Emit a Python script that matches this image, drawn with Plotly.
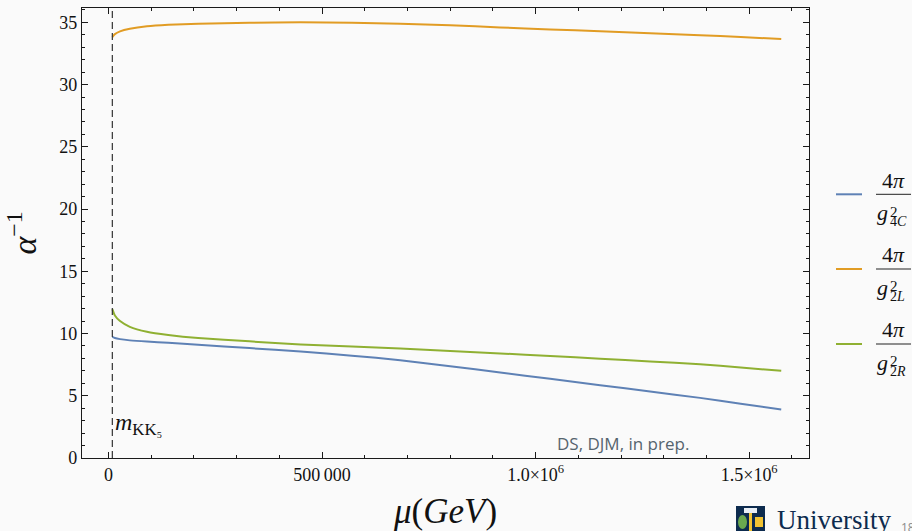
import plotly.graph_objects as go

# Renormalisation scale (GeV) and inverse couplings read along the running
mu = [9000, 15000, 27000, 50000, 90000, 140000, 210000, 330000, 450000,
      570000, 683000, 800000, 917000, 1034000, 1151000, 1268000, 1385000,
      1480000, 1575000]
alpha_inv_4C = [9.73, 9.64, 9.55, 9.45, 9.35, 9.26, 9.10, 8.83, 8.55,
                8.22, 7.86, 7.37, 6.87, 6.36, 5.85, 5.34, 4.83, 4.36, 3.89]
alpha_inv_2L = [33.82, 34.05, 34.27, 34.48, 34.68, 34.80, 34.89, 34.97, 35.0,
                34.96, 34.88, 34.76, 34.59, 34.43, 34.28, 34.13, 33.97,
                33.82, 33.66]
alpha_inv_2R = [11.96, 11.45, 11.0, 10.54, 10.14, 9.88, 9.63, 9.37, 9.12,
                8.96, 8.80, 8.60, 8.40, 8.20, 7.98, 7.76, 7.54, 7.28, 7.0]

m_kk5 = 9000

x_tickvals = [0, 500000, 1000000, 1500000]
x_ticktext = ["0", "500\u2009000", "1.0×10<sup>6</sup>", "1.5×10<sup>6</sup>"]
y_tickvals = [0, 5, 10, 15, 20, 25, 30, 35]

series = [
    ("4", "C", alpha_inv_4C, "#5e81b5"),
    ("2", "L", alpha_inv_2L, "#e19c24"),
    ("2", "R", alpha_inv_2R, "#8fb032"),
]

BG = "#fafafa"
SERIF = "Liberation Serif, DejaVu Serif, serif"
AXIS = "#1a1a1a"
INK = "#111111"

# plot frame in pixels: left 82, right 809, top 8, bottom 458
def px(xp):
    return (xp - 82) / 727


def py(yp):
    return (458 - yp) / 450


fig = go.Figure()
for _, _, vals, col in series:
    fig.add_trace(go.Scatter(
        x=mu, y=vals, mode="lines", showlegend=False,
        line=dict(color=col, width=2, shape="spline", smoothing=0.5),
    ))

# KK threshold marker
fig.add_vline(x=m_kk5, line=dict(color="#333333", width=1.2, dash="7px,4px"))
fig.add_annotation(x=m_kk5, y=2.75, xref="x", yref="y", xanchor="left",
                   yanchor="middle", showarrow=False, xshift=1,
                   text="<i>m</i><sub>KK₅</sub>",
                   font=dict(family=SERIF, size=24, color=INK))


def label(x, y, text, size, anchor="center", family=SERIF, color=INK):
    fig.add_annotation(x=x, y=y, xref="paper", yref="paper", text=text,
                       xanchor=anchor, yanchor="middle", showarrow=False,
                       font=dict(family=family, size=size, color=color))


# Legend drawn by hand so the labels can be fractions 4π / g²
bar_py = [194.3, 269.0, 344.0]
for (n, s, _, col), b in zip(series, bar_py):
    fig.add_shape(type="line", xref="paper", yref="paper",
                  x0=px(836), x1=px(862), y0=py(b), y1=py(b),
                  line=dict(color=col, width=2))
    fig.add_shape(type="line", xref="paper", yref="paper",
                  x0=px(876), x1=px(911), y0=py(b), y1=py(b),
                  line=dict(color="#222222", width=1))
    label(px(893), py(b - 14.3), "4<i>π</i>", 22)
    label(px(875), py(b + 18.5), "<i>g</i>", 22, anchor="left")
    label(px(888), py(b + 17.4), "2", 15, anchor="left")
    label(px(888), py(b + 27.5), n + "<i>" + s + "</i>", 14, anchor="left")

# Credit line inside the frame
label(px(623), py(443), "DS, DJM, in prep.", 17,
      family="Open Sans, Noto Sans, sans-serif", color="#56646e")

# University branding in the slide corner
fig.add_shape(type="rect", xref="paper", yref="paper",
              x0=px(736), x1=px(765), y0=py(531), y1=py(506),
              fillcolor="#0d2b4e", line=dict(width=0))
fig.add_shape(type="rect", xref="paper", yref="paper",
              x0=px(744), x1=px(757), y0=py(513), y1=py(508),
              fillcolor="#e8eef5", line=dict(width=0))
fig.add_shape(type="circle", xref="paper", yref="paper",
              x0=px(738), x1=px(747), y0=py(529), y1=py(515),
              fillcolor="#6aa84f", line=dict(width=0))
fig.add_shape(type="rect", xref="paper", yref="paper",
              x0=px(749), x1=px(752), y0=py(531), y1=py(513),
              fillcolor="#f1c232", line=dict(width=0))
fig.add_shape(type="rect", xref="paper", yref="paper",
              x0=px(755), x1=px(763), y0=py(527), y1=py(517),
              fillcolor="#f1c232", line=dict(width=0))
fig.add_annotation(x=px(775), y=py(503), xref="paper", yref="paper",
                   xanchor="left", yanchor="top", showarrow=False,
                   align="left", text="University<br>of Glasgow",
                   font=dict(family=SERIF, size=27, color="#0d2b4e"))
label(px(899), py(527), "18", 12, anchor="left",
      family="Open Sans, sans-serif", color="#8a8a8a")

axis_common = dict(
    showgrid=False, zeroline=False, showline=True, linecolor=AXIS,
    linewidth=1.3, mirror="ticks", ticks="inside", ticklen=6,
    tickwidth=1.2, tickcolor=AXIS, automargin=False,
    tickfont=dict(family=SERIF, size=18, color=INK),
)

fig.update_layout(
    width=912, height=531,
    margin=dict(l=82, r=103, t=8, b=73),
    paper_bgcolor=BG, plot_bgcolor=BG,
    xaxis=dict(
        axis_common, range=[-62000, 1640000],
        tickmode="array", tickvals=x_tickvals, ticktext=x_ticktext,
        minor=dict(dtick=100000, tick0=0, ticks="inside", ticklen=3,
                   tickcolor=AXIS, tickwidth=1),
        title=dict(text="<i>μ</i>(<i>GeV</i>)", standoff=18,
                   font=dict(family=SERIF, size=35, color=INK)),
    ),
    yaxis=dict(
        axis_common, range=[0, 36.15],
        tickmode="array", tickvals=y_tickvals,
        minor=dict(dtick=1, tick0=0, ticks="inside", ticklen=3,
                   tickcolor=AXIS, tickwidth=1),
        title=dict(text="<i>α</i><sup>−1</sup>", standoff=12,
                   font=dict(family=SERIF, size=34, color=INK)),
    ),
)

fig.write_html("out.html")
